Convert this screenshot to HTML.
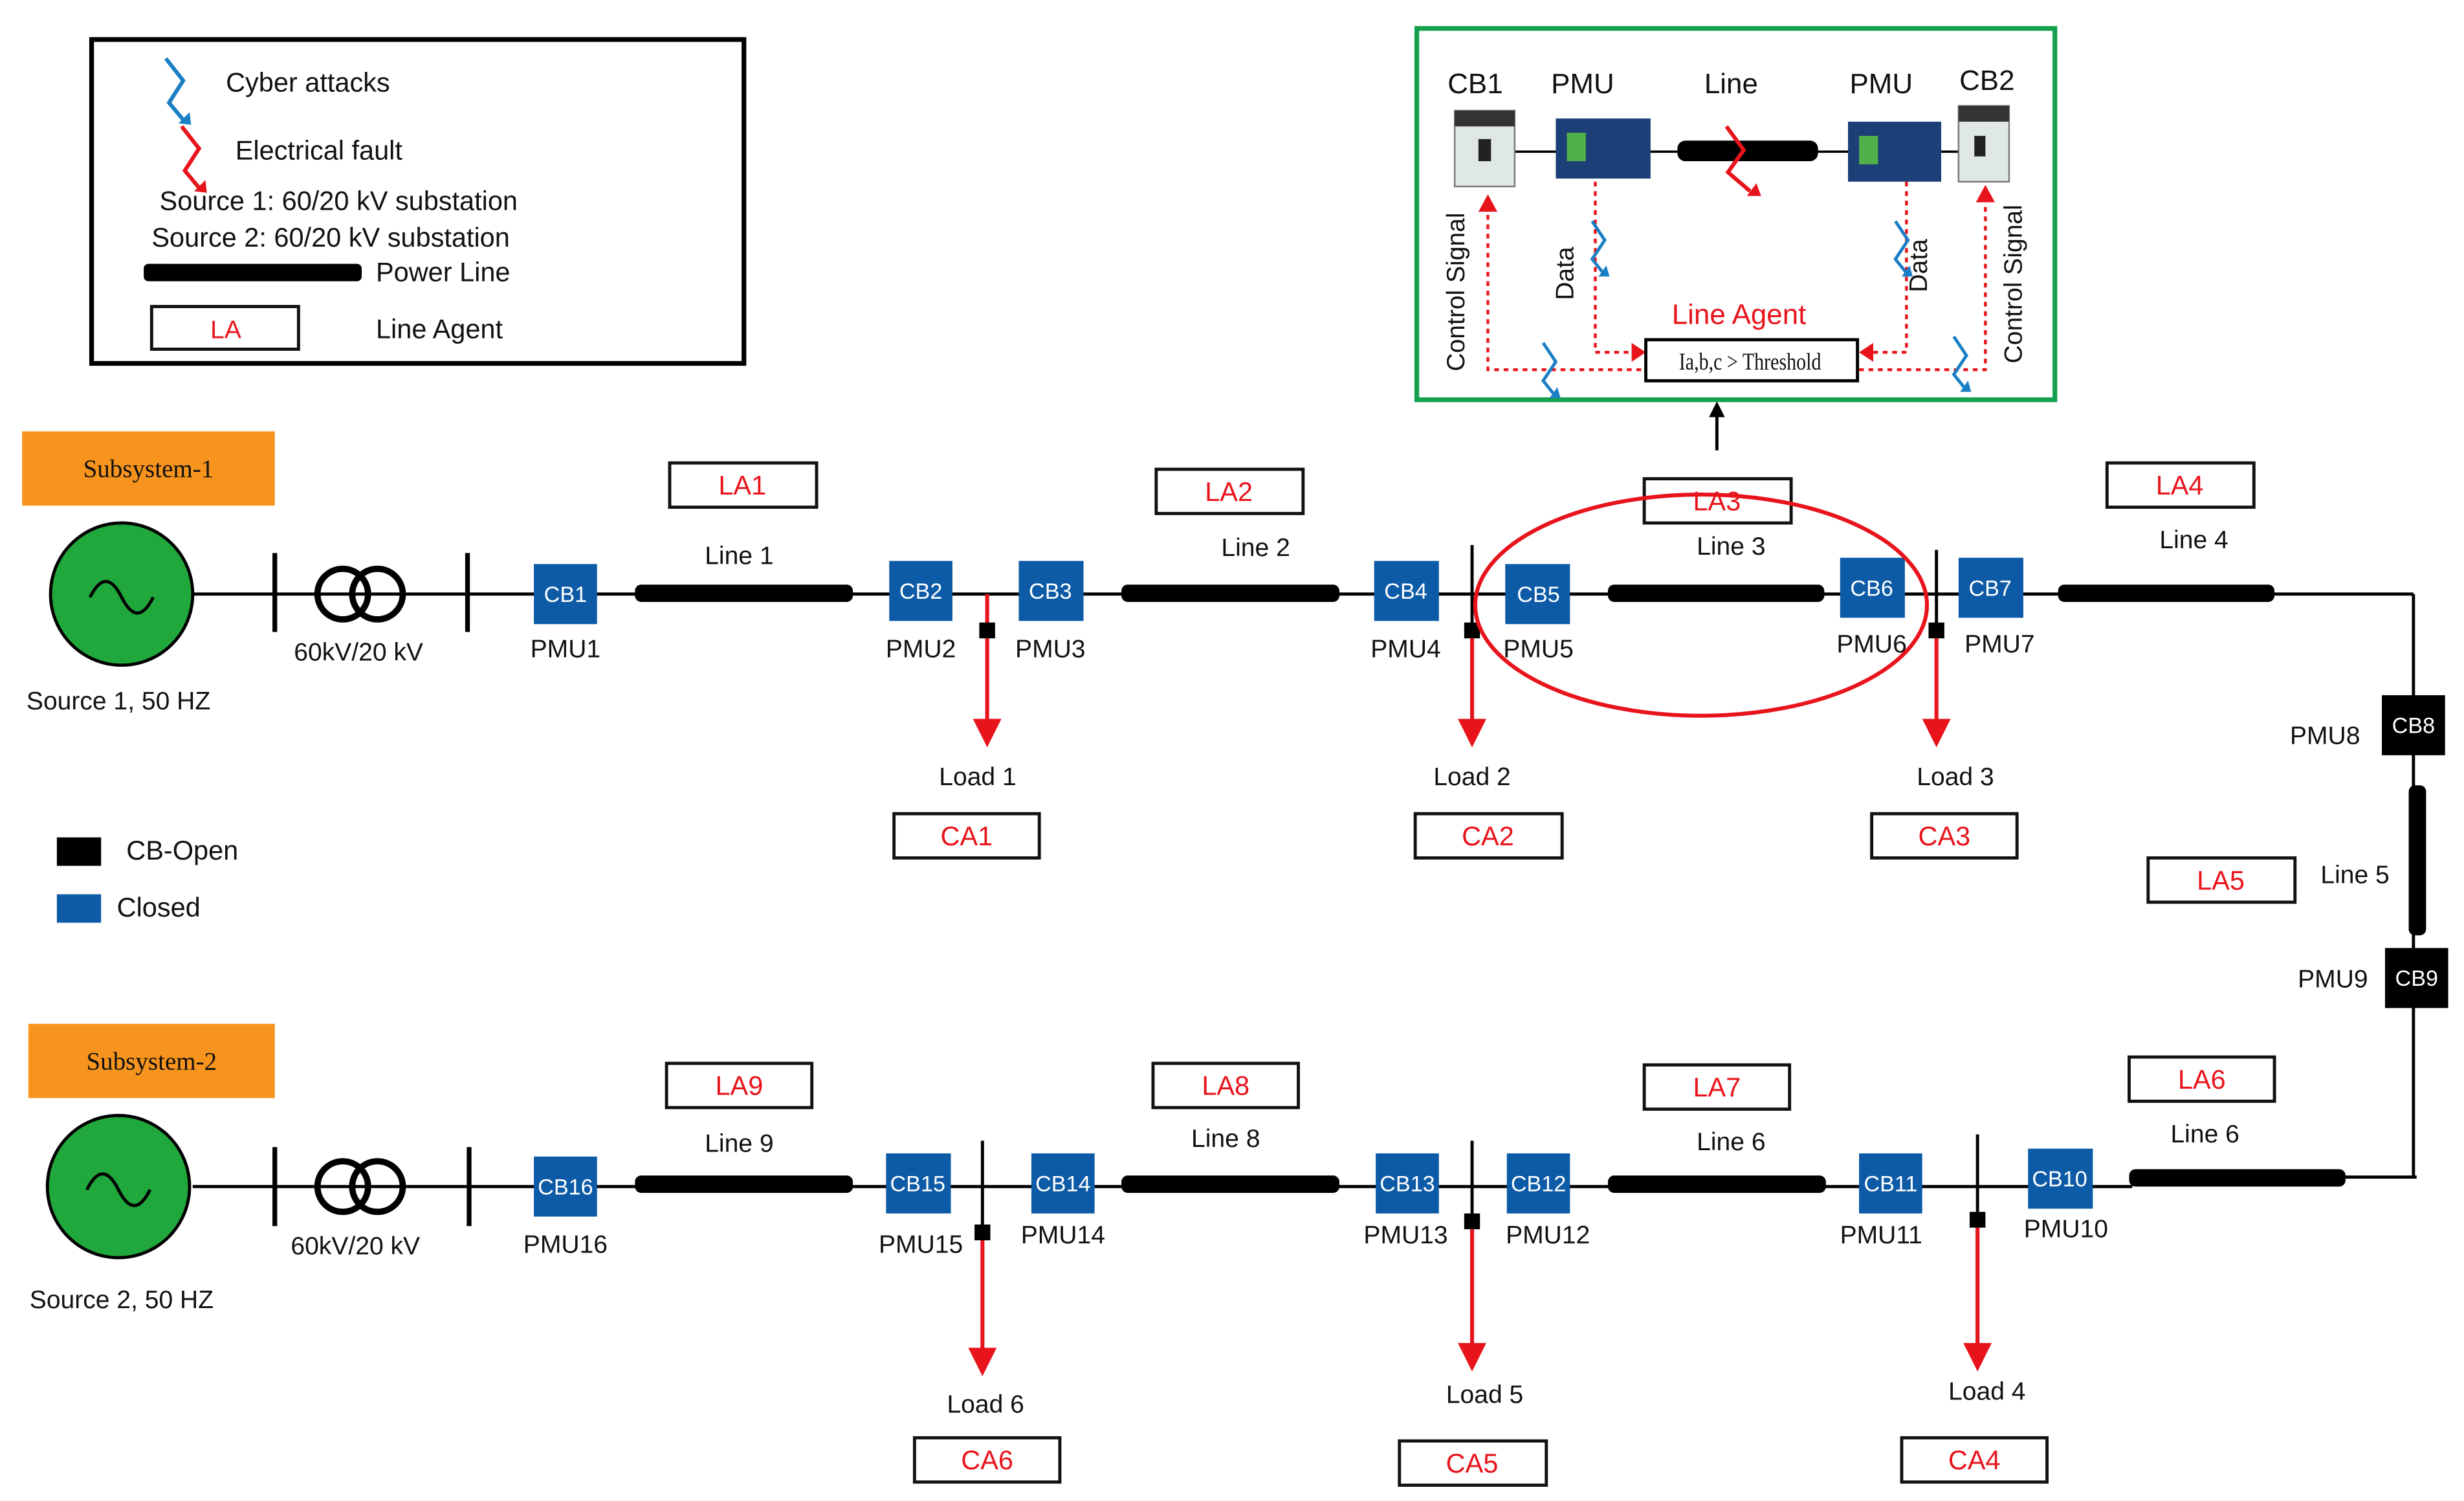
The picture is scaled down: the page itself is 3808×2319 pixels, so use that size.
<!DOCTYPE html>
<html><head><meta charset="utf-8"><style>
html,body{margin:0;padding:0;background:#fff}
svg{display:block}
text{font-family:"Liberation Sans",sans-serif;fill:#111}
.cb{fill:#0d5aa6}
.cbt text{fill:#fff;font-size:14px;text-anchor:middle}
.lbl{font-size:16px;text-anchor:middle}
.bar{fill:#000}
.box{fill:#fff;stroke:#111;stroke-width:2}
</style></head><body>
<svg width="3808" height="2319" viewBox="0 0 1560 950" xmlns="http://www.w3.org/2000/svg">
<!-- Legend -->
<rect x="58" y="25" width="413" height="205" fill="#fff" stroke="#000" stroke-width="3"/>
<path d="M105,37 l11,14 l-9,14 l10,12" fill="none" stroke="#1a7fc4" stroke-width="2.5"/><path d="M113,78 l8,1 l-1,-8z" fill="#1a7fc4"/>
<text x="143" y="58" font-size="17">Cyber attacks</text>
<path d="M115,80 l11,14 l-9,14 l10,12" fill="none" stroke="#e8141c" stroke-width="2.5"/><path d="M123,121 l8,1 l-1,-8z" fill="#e8141c"/>
<text x="149" y="101" font-size="17">Electrical fault</text>
<text x="101" y="133" font-size="17">Source 1: 60/20 kV substation</text>
<text x="96" y="156" font-size="17">Source 2: 60/20 kV substation</text>
<rect x="91" y="167" width="138" height="11" rx="3" class="bar"/>
<text x="238" y="178" font-size="17">Power Line</text>
<rect x="96" y="194" width="93" height="27" class="box"/>
<text x="143" y="214" class="lbl" font-size="17" style="fill:#e8141c">LA</text>
<text x="238" y="214" font-size="17">Line Agent</text>

<rect x="14" y="273" width="160" height="47" fill="#f7941d"/>
<text x="94" y="302" font-size="16" text-anchor="middle" style="font-family:'Liberation Serif',serif">Subsystem-1</text>
<rect x="18" y="648" width="156" height="47" fill="#f7941d"/>
<text x="96" y="677" font-size="16" text-anchor="middle" style="font-family:'Liberation Serif',serif">Subsystem-2</text>

<rect x="36" y="530" width="28" height="18" fill="#000"/><text x="80" y="544" font-size="17">CB-Open</text>
<rect x="36" y="566" width="28" height="18" class="cb"/><text x="74" y="580" font-size="17">Closed</text>

<g stroke="#000" stroke-width="2" fill="none">
<line x1="122" y1="376" x2="1528" y2="376"/>
<line x1="1528" y1="376" x2="1528" y2="745"/>
<line x1="1485" y1="745" x2="1530" y2="745"/>
<line x1="122" y1="751" x2="1350" y2="751"/>
<line x1="174" y1="350" x2="174" y2="400" stroke-width="3"/>
<line x1="296" y1="350" x2="296" y2="400" stroke-width="3"/>
<line x1="174" y1="726" x2="174" y2="776" stroke-width="3"/>
<line x1="297" y1="726" x2="297" y2="776" stroke-width="3"/>
<circle cx="217" cy="376" r="16" stroke-width="4"/><circle cx="239" cy="376" r="16" stroke-width="4"/>
<circle cx="217" cy="751" r="16" stroke-width="4"/><circle cx="239" cy="751" r="16" stroke-width="4"/>
<line x1="932" y1="345" x2="932" y2="400"/>
<line x1="1226" y1="348" x2="1226" y2="400"/>
<line x1="622" y1="722" x2="622" y2="780"/>
<line x1="932" y1="722" x2="932" y2="773"/>
<line x1="1252" y1="718" x2="1252" y2="772"/>
</g>
<circle cx="77" cy="376" r="45" fill="#21a83c" stroke="#000" stroke-width="2"/>
<path d="M57,378 q10,-20 20,0 t20,0" fill="none" stroke="#000" stroke-width="2"/>
<circle cx="75" cy="751" r="45" fill="#21a83c" stroke="#000" stroke-width="2"/>
<path d="M55,753 q10,-20 20,0 t20,0" fill="none" stroke="#000" stroke-width="2"/>
<text x="227" y="418" class="lbl">60kV/20 kV</text>
<text x="75" y="449" class="lbl">Source 1, 50 HZ</text>
<text x="225" y="794" class="lbl">60kV/20 kV</text>
<text x="77" y="828" class="lbl">Source 2, 50 HZ</text>

<rect x="402" y="370" width="138" height="11" rx="4" class="bar"/>
<rect x="710" y="370" width="138" height="11" rx="4" class="bar"/>
<rect x="1018" y="370" width="137" height="11" rx="4" class="bar"/>
<rect x="1303" y="370" width="137" height="11" rx="4" class="bar"/>
<rect x="1525" y="497" width="11" height="95" rx="4" class="bar"/>
<rect x="402" y="744" width="138" height="11" rx="4" class="bar"/>
<rect x="710" y="744" width="138" height="11" rx="4" class="bar"/>
<rect x="1018" y="744" width="138" height="11" rx="4" class="bar"/>
<rect x="1348" y="740" width="137" height="11" rx="4" class="bar"/>

<text x="468" y="357" class="lbl">Line 1</text>
<text x="795" y="352" class="lbl">Line 2</text>
<text x="1096" y="351" class="lbl">Line 3</text>
<text x="1389" y="347" class="lbl">Line 4</text>
<text x="1491" y="559" class="lbl">Line 5</text>
<text x="468" y="729" class="lbl">Line 9</text>
<text x="776" y="726" class="lbl">Line 8</text>
<text x="1096" y="728" class="lbl">Line 6</text>
<text x="1396" y="723" class="lbl">Line 6</text>

<g class="cb">
<rect x="338" y="357" width="40" height="38"/>
<rect x="563" y="355" width="40" height="38"/>
<rect x="645" y="355" width="41" height="38"/>
<rect x="870" y="355" width="41" height="38"/>
<rect x="953" y="357" width="41" height="38"/>
<rect x="1165" y="353" width="41" height="38"/>
<rect x="1240" y="353" width="41" height="38"/>
<rect x="338" y="732" width="40" height="38"/>
<rect x="561" y="730" width="41" height="38"/>
<rect x="653" y="730" width="40" height="38"/>
<rect x="871" y="730" width="40" height="38"/>
<rect x="954" y="730" width="40" height="38"/>
<rect x="1177" y="730" width="40" height="38"/>
<rect x="1284" y="727" width="41" height="38"/>
</g>
<rect x="1508" y="440" width="40" height="38" fill="#000"/>
<rect x="1510" y="600" width="40" height="38" fill="#000"/>
<g class="cbt">
<text x="358" y="381">CB1</text><text x="583" y="379">CB2</text><text x="665" y="379">CB3</text>
<text x="890" y="379">CB4</text><text x="974" y="381">CB5</text><text x="1185" y="377">CB6</text>
<text x="1260" y="377">CB7</text><text x="1528" y="464">CB8</text><text x="1530" y="624">CB9</text>
<text x="358" y="756">CB16</text><text x="581" y="754">CB15</text><text x="673" y="754">CB14</text>
<text x="891" y="754">CB13</text><text x="974" y="754">CB12</text><text x="1197" y="754">CB11</text>
<text x="1304" y="751">CB10</text>
</g>
<g class="lbl">
<text x="358" y="416" class="lbl">PMU1</text><text x="583" y="416" class="lbl">PMU2</text><text x="665" y="416" class="lbl">PMU3</text>
<text x="890" y="416" class="lbl">PMU4</text><text x="974" y="416" class="lbl">PMU5</text><text x="1185" y="413" class="lbl">PMU6</text>
<text x="1266" y="413" class="lbl">PMU7</text><text x="1472" y="471" class="lbl">PMU8</text><text x="1477" y="625" class="lbl">PMU9</text>
<text x="358" y="793" class="lbl">PMU16</text><text x="583" y="793" class="lbl">PMU15</text><text x="673" y="787" class="lbl">PMU14</text>
<text x="890" y="787" class="lbl">PMU13</text><text x="980" y="787" class="lbl">PMU12</text><text x="1191" y="787" class="lbl">PMU11</text>
<text x="1308" y="783" class="lbl">PMU10</text>
</g>

<g stroke="#e8141c" stroke-width="2.5">
<line x1="625" y1="376" x2="625" y2="458"/><line x1="932" y1="400" x2="932" y2="458"/><line x1="1226" y1="400" x2="1226" y2="458"/>
<line x1="622" y1="780" x2="622" y2="855"/><line x1="932" y1="773" x2="932" y2="852"/><line x1="1252" y1="772" x2="1252" y2="852"/>
</g>
<g fill="#e8141c">
<path d="M616,455 h18 l-9,18z"/><path d="M923,455 h18 l-9,18z"/><path d="M1217,455 h18 l-9,18z"/>
<path d="M613,853 h18 l-9,18z"/><path d="M923,850 h18 l-9,18z"/><path d="M1243,850 h18 l-9,18z"/>
</g>
<g fill="#000">
<rect x="620" y="394" width="10" height="10"/><rect x="927" y="394" width="10" height="10"/><rect x="1221" y="394" width="10" height="10"/>
<rect x="617" y="775" width="10" height="10"/><rect x="927" y="768" width="10" height="10"/><rect x="1247" y="767" width="10" height="10"/>
</g>
<text x="619" y="497" class="lbl">Load 1</text><text x="932" y="497" class="lbl">Load 2</text><text x="1238" y="497" class="lbl">Load 3</text>
<text x="624" y="894" class="lbl">Load 6</text><text x="940" y="888" class="lbl">Load 5</text><text x="1258" y="886" class="lbl">Load 4</text>

<g class="box">
<rect x="424" y="293" width="93" height="28"/><rect x="732" y="297" width="93" height="28"/><rect x="1041" y="303" width="93" height="28"/>
<rect x="1334" y="293" width="93" height="28"/><rect x="1360" y="543" width="93" height="28"/>
<rect x="566" y="515" width="92" height="28"/><rect x="896" y="515" width="93" height="28"/><rect x="1185" y="515" width="92" height="28"/>
<rect x="422" y="673" width="92" height="28"/><rect x="730" y="673" width="92" height="28"/><rect x="1041" y="674" width="92" height="28"/>
<rect x="1348" y="669" width="92" height="28"/>
<rect x="579" y="910" width="92" height="28"/><rect x="886" y="912" width="93" height="28"/><rect x="1204" y="910" width="92" height="28"/>
</g>
<g font-size="17" text-anchor="middle">
<text x="470" y="313" style="fill:#e8141c">LA1</text><text x="778" y="317" style="fill:#e8141c">LA2</text><text x="1087" y="323" style="fill:#e8141c">LA3</text>
<text x="1380" y="313" style="fill:#e8141c">LA4</text><text x="1406" y="563" style="fill:#e8141c">LA5</text>
<text x="612" y="535" style="fill:#e8141c">CA1</text><text x="942" y="535" style="fill:#e8141c">CA2</text><text x="1231" y="535" style="fill:#e8141c">CA3</text>
<text x="468" y="693" style="fill:#e8141c">LA9</text><text x="776" y="693" style="fill:#e8141c">LA8</text><text x="1087" y="694" style="fill:#e8141c">LA7</text>
<text x="1394" y="689" style="fill:#e8141c">LA6</text>
<text x="625" y="930" style="fill:#e8141c">CA6</text><text x="932" y="932" style="fill:#e8141c">CA5</text><text x="1250" y="930" style="fill:#e8141c">CA4</text>
</g>

<ellipse cx="1077" cy="383" rx="143" ry="70" fill="none" stroke="#e8141c" stroke-width="2.5"/>
<line x1="1087" y1="285" x2="1087" y2="262" stroke="#000" stroke-width="2"/>
<path d="M1082,264 h10 l-5,-10z" fill="#000"/>

<rect x="897" y="18" width="404" height="235" fill="#fff" stroke="#14a04c" stroke-width="3"/>
<g font-size="18" text-anchor="middle">
<text x="934" y="59">CB1</text><text x="1002" y="59">PMU</text><text x="1096" y="59">Line</text>
<text x="1191" y="59">PMU</text><text x="1258" y="57">CB2</text>
</g>
<line x1="955" y1="96" x2="1240" y2="96" stroke="#000" stroke-width="1.5"/>
<rect x="921" y="70" width="38" height="48" fill="#dfe8e2" stroke="#777"/>
<rect x="921" y="70" width="38" height="10" fill="#333"/>
<rect x="936" y="88" width="8" height="14" fill="#222"/>
<rect x="1240" y="67" width="32" height="48" fill="#dfe8e2" stroke="#777"/>
<rect x="1240" y="67" width="32" height="10" fill="#333"/>
<rect x="1250" y="86" width="7" height="13" fill="#222"/>
<rect x="985" y="75" width="60" height="38" fill="#1d3f78"/>
<rect x="992" y="84" width="12" height="18" fill="#52b04a"/>
<rect x="1170" y="77" width="59" height="38" fill="#1d3f78"/>
<rect x="1177" y="86" width="12" height="18" fill="#52b04a"/>
<rect x="1062" y="89" width="89" height="13" rx="5" fill="#000"/>
<path d="M1093,80 l11,15 l-10,14 l14,12" fill="none" stroke="#e8141c" stroke-width="2.5"/><path d="M1106,124 l9,0 l-3,-8z" fill="#e8141c"/>
<g fill="none" stroke="#e8141c" stroke-width="1.8" stroke-dasharray="3,3">
<path d="M1010,115 V223 H1035"/><path d="M1207,115 V223 H1183"/>
<path d="M942,130 V234 H1042"/><path d="M1257,125 V234 H1176"/>
</g>
<g fill="#e8141c">
<path d="M1033,217 l9,6 l-9,6z"/><path d="M1186,217 l-9,6 l9,6z"/>
<path d="M936,134 l6,-11 l6,11z"/><path d="M1251,128 l6,-11 l6,11z"/>
</g>
<rect x="1042" y="215" width="134" height="26" fill="#fff" stroke="#000" stroke-width="2"/>
<text x="1108" y="234" font-size="15" text-anchor="middle" style="font-family:'Liberation Serif',serif" transform="translate(1108 0) scale(0.82 1) translate(-1108 0)">Ia,b,c &gt; Threshold</text>
<text x="1101" y="205" font-size="18" text-anchor="middle" style="fill:#e8141c">Line Agent</text>
<text transform="translate(927 235) rotate(-90)" font-size="16">Control Signal</text>
<text transform="translate(1280 230) rotate(-90)" font-size="16">Control Signal</text>
<text transform="translate(996 190) rotate(-90)" font-size="16">Data</text>
<text transform="translate(1220 185) rotate(-90)" font-size="16">Data</text>
<g fill="none" stroke="#1a7fc4" stroke-width="2">
<path d="M1008,140 l8,12 l-8,12 l8,10"/><path d="M1200,140 l8,12 l-8,12 l8,10"/>
<path d="M977,217 l8,12 l-8,12 l8,10"/><path d="M1237,213 l8,12 l-8,12 l8,10"/>
</g>
<g fill="#1a7fc4">
<path d="M1012,175 l7,0 l-2,-7z"/><path d="M1204,175 l7,0 l-2,-7z"/>
<path d="M981,252 l7,0 l-2,-7z"/><path d="M1241,248 l7,0 l-2,-7z"/>
</g>
</svg>
</body></html>
